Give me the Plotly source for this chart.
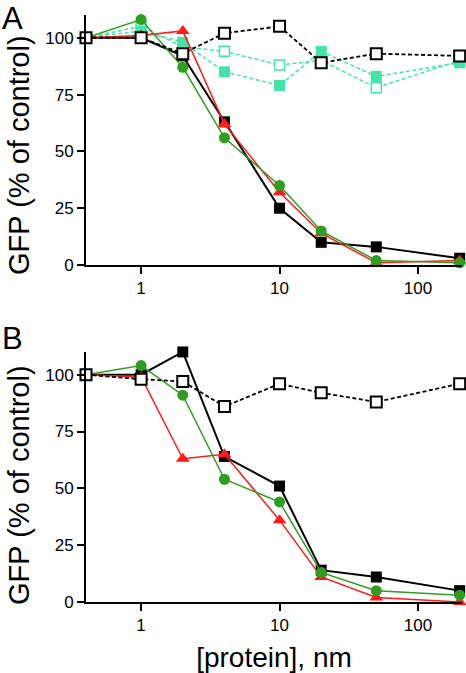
import plotly.graph_objects as go
from plotly.subplots import make_subplots

conc = [0.4, 1, 2, 4, 10, 20, 50, 200]

# Panel A
a_black_filled = [100, 100, 92, 63, 25, 10, 8, 3]
a_red = [100, 101, 103, 62, 32, 14, 1, 2]
a_green = [100, 108, 87, 56, 35, 15, 2, 1]
a_black_open = [100, 100, 93, 102, 105, 89, 93, 92]
a_teal_filled = [100, 103, 98, 85, 79, 94, 83, 89]
a_teal_open = [100, 105, 96, 94, 88, 90, 78, 90]

# Panel B
b_black_filled = [100, 100, 110, 64, 51, 14, 11, 5]
b_red = [100, 99, 63, 65, 36, 11, 2, 0]
b_green = [100, 104, 91, 54, 44, 13, 5, 3]
b_black_open = [100, 98, 97, 86, 96, 92, 88, 96]

x_ticks = [1, 10, 100]
x_tick_labels = ["1", "10", "100"]
y_ticks = [0, 25, 50, 75, 100]

TEAL = "#44E3A8"
GREEN = "#2E9E1E"
RED = "#FF1A1A"
DASH = "4px,2.5px"

fig = make_subplots(rows=2, cols=1, vertical_spacing=0.0)

def add(row, y, color, symbol, dash, fill, size=11, lw=1.5, mlw=1.8):
    fig.add_trace(go.Scatter(
        x=conc, y=y, mode="lines+markers",
        line=dict(color=color, width=lw, dash=dash),
        marker=dict(symbol=symbol, size=size,
                    color=fill,
                    line=dict(color=color, width=mlw if fill == "white" else 0)),
        cliponaxis=False, showlegend=False), row=row, col=1)

# Panel A
add(1, a_teal_open, TEAL, "square", DASH, "white", size=10, lw=1.5, mlw=1.5)
add(1, a_teal_filled, TEAL, "square", DASH, TEAL, size=11, lw=1.5)
add(1, a_black_filled, "black", "square", "solid", "black", size=11, lw=2)
add(1, a_red, RED, "triangle-up", "solid", RED, size=12)
add(1, a_green, GREEN, "circle", "solid", GREEN, size=11)
add(1, a_black_open, "black", "square", DASH, "white", size=11, lw=1.8, mlw=2)

# Panel B
add(2, b_black_filled, "black", "square", "solid", "black", size=11, lw=2)
add(2, b_red, RED, "triangle-up", "solid", RED, size=12)
add(2, b_green, GREEN, "circle", "solid", GREEN, size=11)
add(2, b_black_open, "black", "square", DASH, "white", size=11, lw=1.8, mlw=2)

FONT = "Liberation Sans, Arial, sans-serif"

xaxis_common = dict(
    type="log", range=[-0.398, 2.318],
    tickvals=x_ticks, ticktext=x_tick_labels,
    ticks="outside", ticklen=7, tickwidth=1.5, tickcolor="black",
    showline=True, linecolor="black", linewidth=2,
    showgrid=False, zeroline=False,
    tickfont=dict(size=17, color="black", family=FONT),
)
yaxis_common = dict(
    range=[0, 110], tickvals=y_ticks,
    ticks="outside", ticklen=7, tickwidth=1.5, tickcolor="black",
    showline=True, linecolor="black", linewidth=2,
    showgrid=False, zeroline=False, automargin=False,
    tickfont=dict(size=17, color="black", family=FONT),
)

YTITLE = "GFP (% of control)"
title_font = dict(size=29, color="black", family=FONT)

fig.update_layout(
    width=466, height=673,
    margin=dict(l=86, r=4, t=15, b=71),
    plot_bgcolor="white", paper_bgcolor="white",
    font=dict(family=FONT, color="black"),
    xaxis=dict(**xaxis_common, domain=[0, 1], anchor="y"),
    yaxis=dict(**yaxis_common, domain=[0.574, 1.0], anchor="x"),
    xaxis2=dict(**xaxis_common, domain=[0, 1], anchor="y2", automargin=False,
                title=dict(text="[protein], nm", font=dict(size=28, color="black", family=FONT), standoff=13)),
    yaxis2=dict(**yaxis_common, domain=[0.0, 0.426], anchor="x2"),
    annotations=[
        dict(text="A", x=0, y=1, xref="paper", yref="paper", xanchor="left", yanchor="top",
             xshift=-86, yshift=16, showarrow=False, font=dict(size=31, color="black", family=FONT)),
        dict(text="B", x=0, y=0.426, xref="paper", yref="paper", xanchor="left", yanchor="top",
             xshift=-86, yshift=33, showarrow=False, font=dict(size=31, color="black", family=FONT)),
        dict(text=YTITLE, x=0, y=0.7615, xref="paper", yref="paper", xanchor="center", yanchor="middle",
             xshift=-67, textangle=-90, showarrow=False, font=title_font),
        dict(text=YTITLE, x=0, y=0.1993, xref="paper", yref="paper", xanchor="center", yanchor="middle",
             xshift=-67, textangle=-90, showarrow=False, font=title_font),
    ],
)

fig.write_html("out.html", config={"displayModeBar": False},
               post_script="document.body.style.margin='0';document.body.style.overflow='hidden';")
